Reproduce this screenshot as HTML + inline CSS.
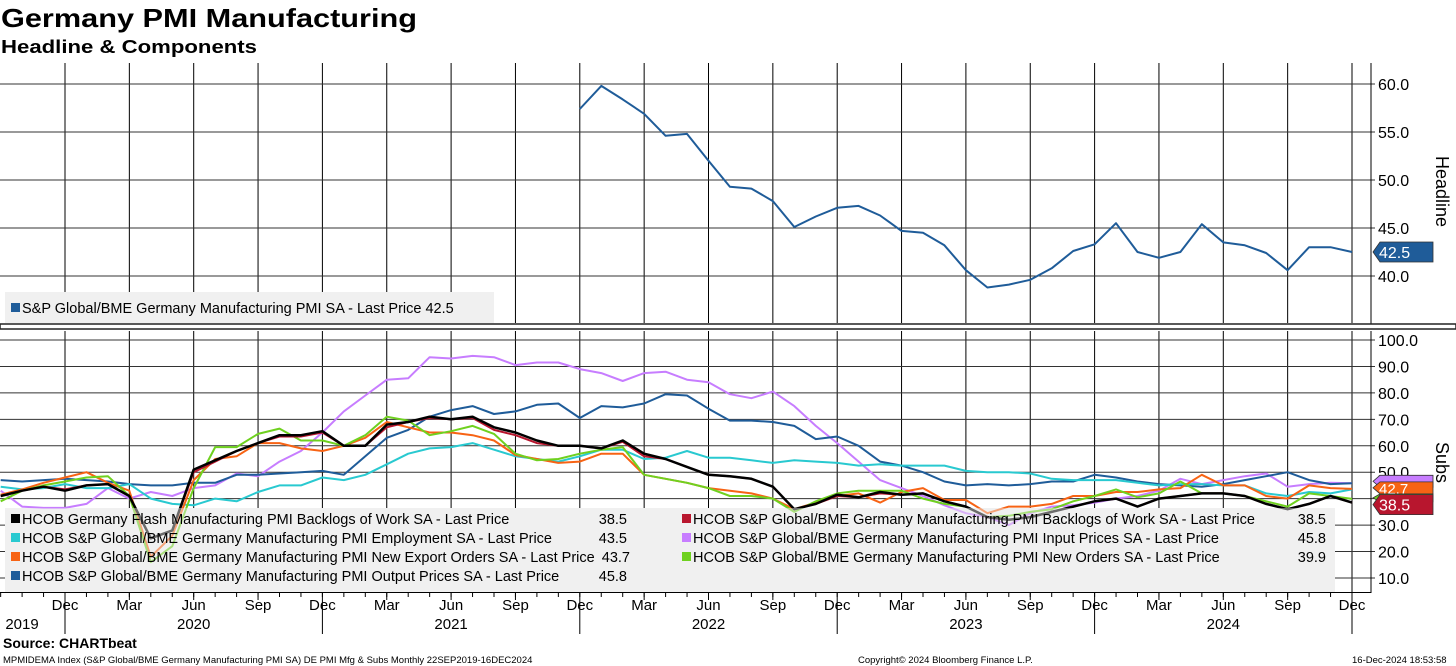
<!DOCTYPE html>
<html><head><meta charset="utf-8"><style>
html,body{margin:0;padding:0;background:#fff;}
svg{display:block;font-family:"Liberation Sans",sans-serif;}
</style></head><body>
<svg id="chart" width="1456" height="666" viewBox="0 0 1456 666" xmlns="http://www.w3.org/2000/svg">
<text x="1" y="27" font-size="26" font-weight="bold" textLength="416" lengthAdjust="spacingAndGlyphs">Germany PMI Manufacturing</text>
<text x="1" y="53" font-size="18" font-weight="bold" textLength="256" lengthAdjust="spacingAndGlyphs">Headline &amp; Components</text>
<g id="grid"></g>
<g id="legendbg"></g>
<g id="series"></g>
<g id="overlay"></g>
<text x="3" y="648" font-size="14" font-weight="bold">Source: CHARTbeat</text>
<text x="3" y="663" font-size="9.5">MPMIDEMA Index (S&amp;P Global/BME Germany Manufacturing PMI SA) DE PMI Mfg &amp; Subs  Monthly 22SEP2019-16DEC2024</text>
<text x="858" y="663" font-size="9.5">Copyright© 2024 Bloomberg Finance L.P.</text>
<text x="1352" y="663" font-size="9.5">16-Dec-2024 18:53:58</text>
</svg>
<script>
// Headline: Dec 2021 .. Dec 2024
const headline = [57.4,59.8,58.4,56.9,54.6,54.8,52.0,49.3,49.1,47.8,45.1,46.2,47.1,47.3,46.3,44.7,44.5,43.2,40.6,38.8,39.1,39.6,40.8,42.6,43.3,45.5,42.5,41.9,42.5,45.4,43.5,43.2,42.4,40.6,43.0,43.0,42.5];
// Subs: Sep 2019 .. Dec 2024 (64 months)
const flashBacklogs = [41,43,44.5,43, 45,45.5,41,25,28,51,54.5,58,61,64,64,65.5, 60,60,68,69,71,70,71,67,65,62,60,60, 59,62,57,55,52,49,48.5,47.5,44.5,36,38,41.5, 40.5,42.5,41.5,42,39,37,33,32,33,35,37,39, 40,37,40,41,42,42,41,38,36,38,41,38.5];
const backlogs = [41,43,44.5,43.5, 45,45.5,41,25,28,50,54,58,61,63.5,63.5,65, 60,60,67,69,70.5,70,70.5,66,64,61,60,60, 59,61.5,56,55,52,49,48.5,47.5,44.5,36,38,41, 40.5,42,41.5,42,39,37,33,32,33,35,37,39, 40,37,40,41,42,42,41,38,36,38,41,38.5];
const employment = [44.5,43.5,44,45.5, 44,44,45.5,40,38,37.5,40,39,42.5,45,45,48, 47,49,53,57,59,59.5,61,58.5,56,55,54,56, 58.5,58.5,55,55.5,58,55.5,55.5,54.5,53.5,54.5,54,53.5, 52.5,53,52.5,52.5,52.5,50.5,50,50,49.5,47.5,47,47, 47,46,45,45.5,45.5,45,45,42,41,42.5,42,43.5];
const exportOrders = [41.5,43.5,46,48, 50,46,43,18,26,47,55,56,61,61,59,58, 60,63,69,67,65,65,64,62,56.5,55,53.5,54, 57,57,49,47.5,46,44,43,42,40,36,38.5,41, 42,38.5,42.5,44,39.5,39.5,34.5,37,37,38,41,41, 42.5,42.5,43.5,44,49,45,45,41,40,45,44,43.7];
const inputPrices = [43,37,36.5,36.5, 38,44,40,42.5,41,44,45,49.5,48.5,54,58,65, 73,79,85,85.5,93.5,93,94,93.5,90.5,91.5,91.5,89, 87.5,84.5,87.5,88,85,84,79.5,78,80.5,75,67.5,61, 54,47,44,41,37.5,34.5,33,30,34.5,37,37.5,38.5, 40,41,43,47.5,45.5,47,48.5,49.5,44.5,45.5,46,45.8];
const newOrders = [39,43,45,46.5, 48,48.5,41,16,22,44,59.5,59.5,64.5,66.5,62,62, 60,64,71,69.5,64,65.5,67.5,64.5,57,54.5,55,57, 58.5,59.5,49,47.5,46,44,41,41,40,35,39,42, 43,43,43,40,38,37,33,33.5,35,36,39,41, 43.5,40.5,42,46.5,42,42,41,39,37,42,41,39.9];
const outputPrices = [47,46.5,47,47.5, 47,46.5,45.5,45,45,46,46,49,49,49.5,50,50.5, 49,56,63,66,71,73.5,75,72,73,75.5,76,70.5, 75,74.5,76,79.5,79,74,69.5,69.5,69,67.5,62.5,63.5, 60,54,52.5,50,46.5,45,45.5,45,45.5,46.5,46.5,49, 48,46.5,45.5,45,44.5,45.5,47,48.5,50,47,45.5,45.8];
const monthLabels = ["Dec","Mar","Jun","Sep"];
const yearLabels = ["2019","2020","2021","2022","2023","2024"];
const headTicks = [40,45,50,55,60];
const subTicks = [10,20,30,40,50,60,70,80,90,100];

const NS="http://www.w3.org/2000/svg";
const PX_MONTH=(1352-65)/60;
const xm = i => 65 + (i-3)*PX_MONTH;
const yH = v => 276 - (v-40)*9.6;
const yS = v => 340 + (100-v)*2.644;
function mk(tag, attrs, parent, text){
  const e=document.createElementNS(NS,tag);
  for(const k in attrs) e.setAttribute(k,attrs[k]);
  if(text!==undefined) e.textContent=text;
  parent.appendChild(e); return e;
}
const grid=document.getElementById('grid');
const lbg=document.getElementById('legendbg');
const ser=document.getElementById('series');
const ov=document.getElementById('overlay');

for(let q=0;q<=20;q++){
  const x=xm(3+q*3);
  const l1=mk('line',{x1:x,y1:63,x2:x,y2:323,stroke:'#000','stroke-width':1},grid);
  
  
  const l2=mk('line',{x1:x,y1:331,x2:x,y2:(q%4===0?634:600),stroke:'#000','stroke-width':1},grid);
  
  
  const t=mk('text',{x:x,y:610,'font-size':15,'text-anchor':'middle'},grid,monthLabels[q%4]);
  
  
}
for(let i=0;i<=63;i++){
  const x=xm(i);
  const tk=mk('line',{x1:x,y1:592,x2:x,y2:597,stroke:'#000'},grid);
  
  
}
yearLabels.forEach((y,k)=>{
  const x = k===0 ? 22 : xm(9+(k-1)*12);
  const t=mk('text',{x:x,y:629,'font-size':15,'text-anchor':'middle'},grid,y);
  
  
});
headTicks.forEach(v=>{
  const y=yH(v);
  const l=mk('line',{x1:0,y1:y,x2:1375,y2:y,stroke:'#333','stroke-width':1},grid);
  
  
  const t=mk('text',{x:1378,y:y+6,'font-size':16},grid,v.toFixed(1));
  
  
});
subTicks.forEach(v=>{
  const y=yS(v);
  const l=mk('line',{x1:0,y1:y,x2:1375,y2:y,stroke:'#333','stroke-width':1},grid);
  
  
  const t=mk('text',{x:1378,y:y+6,'font-size':16},grid,v.toFixed(1));
  
  
});
let a=mk('line',{x1:1371,y1:63,x2:1371,y2:325,stroke:'#000'},grid);
 
a=mk('line',{x1:1371,y1:331,x2:1371,y2:593,stroke:'#000'},grid);
 
a=mk('line',{x1:0,y1:592.5,x2:1371,y2:592.5,stroke:'#000'},grid);
 
a=mk('rect',{x:0,y:324,width:1456,height:5,fill:'#fff',stroke:'#222','stroke-width':1.5},grid);
 

// legend backgrounds (behind series so lines show through, as in reference)
let r=mk('rect',{x:5,y:292,width:489,height:31,fill:'#f0f0f0'},lbg);
 
r=mk('rect',{x:5,y:508,width:1330,height:84,fill:'#f0f0f0'},lbg);
 

function drawLine(data, offset, yf, color, name, w){
  const pts=data.map((v,i)=>xm(i+offset).toFixed(1)+','+yf(v).toFixed(1)).join(' ');
  const p=mk('polyline',{points:pts,fill:'none',stroke:color,'stroke-width':w||2,'stroke-linejoin':'round'},ser);
  
  
}
drawLine(headline,27,yH,'#1f5c99','headline-pmi-line',2);
drawLine(inputPrices,0,yS,'#c77dff','input-prices-line',2);
drawLine(outputPrices,0,yS,'#1f5c99','output-prices-line',2);
drawLine(employment,0,yS,'#29c9d0','employment-line',2);
drawLine(exportOrders,0,yS,'#f76314','export-orders-line',2);
drawLine(newOrders,0,yS,'#6fd11f','new-orders-line',2);
drawLine(backlogs,0,yS,'#b8162e','backlogs-line',2);
drawLine(flashBacklogs,0,yS,'#000','flash-backlogs-line',2.5);

// soft veil over lines inside legend
r=mk('rect',{x:5,y:508,width:1330,height:84,fill:'#f0f0f0','fill-opacity':0.45},ov);
 

r=mk('rect',{x:11,y:303,width:9,height:9,fill:'#1f5c99'},ov);
 
r=mk('text',{x:22,y:313,'font-size':14.5},ov,'S&P Global/BME Germany Manufacturing PMI SA - Last Price 42.5');
 

const legItems=[
 [8,524,'#000','HCOB Germany Flash Manufacturing PMI Backlogs of Work SA - Last Price',flashBacklogs,627],
 [8,543,'#29c9d0','HCOB S&P Global/BME Germany Manufacturing PMI Employment SA - Last Price',employment,627],
 [8,562,'#f76314','HCOB S&P Global/BME Germany Manufacturing PMI New Export Orders SA - Last Price',exportOrders,630],
 [8,581,'#1f5c99','HCOB S&P Global/BME Germany Manufacturing PMI Output Prices SA - Last Price',outputPrices,627],
 [679,524,'#b8162e','HCOB S&P Global/BME Germany Manufacturing PMI Backlogs of Work SA - Last Price',backlogs,1326],
 [679,543,'#c77dff','HCOB S&P Global/BME Germany Manufacturing PMI Input Prices SA - Last Price',inputPrices,1326],
 [679,562,'#6fd11f','HCOB S&P Global/BME Germany Manufacturing PMI New Orders SA - Last Price',newOrders,1326]
];
legItems.forEach(it=>{
  const s=mk('rect',{x:it[0]+3,y:it[1]-10,width:9,height:9,fill:it[2]},ov);
   
  const t=mk('text',{x:it[0]+14,y:it[1],'font-size':14.5},ov,it[3]);
   
  const v=mk('text',{x:it[5],y:it[1],'font-size':14.5,'text-anchor':'end'},ov,it[4][it[4].length-1].toFixed(1));
   
});

function flag(y,h,color,label,name,fs){
  const p=mk('path',{d:`M1373,${y} L1380,${y-h/2} L1433,${y-h/2} L1433,${y+h/2} L1380,${y+h/2} Z`,fill:color,stroke:'#333','stroke-width':0.8},ov);
   
  if(label){
    const t=mk('text',{x:1379,y:y+6,'font-size':fs||16,fill:'#fff'},ov,label);
     
  }
}
flag(yH(headline[headline.length-1]),20,'#1f5c99','42.5','headline-value-flag');
flag(yS(45.8)-2,12,'#c77dff','','input-prices-flag');
flag(yS(43.7)-1,12,'#f76314','42.7','export-orders-flag',15);
flag(yS(40.3),8,'#6fd11f','','new-orders-flag');
flag(yS(38.5)+2,20,'#b8162e','38.5','backlogs-flag');

r=mk('text',{x:0,y:0,'font-size':18,transform:'translate(1436,156) rotate(90)'},ov,'Headline');
 
r=mk('text',{x:0,y:0,'font-size':18,transform:'translate(1436,442) rotate(90)'},ov,'Subs');
 
</script>
</body></html>
